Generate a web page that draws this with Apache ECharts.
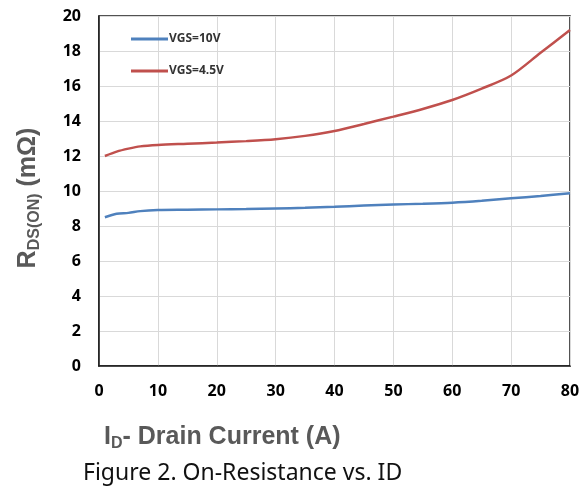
<!DOCTYPE html>
<html>
<head>
<meta charset="utf-8">
<script src="https://cdn.jsdelivr.net/npm/echarts@6/dist/echarts.min.js"></script>
<style>
  html, body { margin: 0; padding: 0; background: #fff; }
  #chart { width: 587px; height: 494px; }
</style>
</head>
<body>
<div id="chart"></div>
<script>
// Drain current (A) sample points
const drainCurrent = [1, 3, 5, 7, 10, 15, 20, 25, 30, 35, 40, 45, 50, 55, 60, 65, 70, 75, 80];
// On-resistance (mΩ) at VGS = 10 V
const rdsVgs10 = [8.5, 8.7, 8.75, 8.85, 8.91, 8.93, 8.95, 8.97, 9.0, 9.04, 9.1, 9.17, 9.23, 9.27, 9.33, 9.44, 9.58, 9.72, 9.87];
// On-resistance (mΩ) at VGS = 4.5 V
const rdsVgs45 = [12.0, 12.25, 12.42, 12.55, 12.63, 12.7, 12.77, 12.85, 12.96, 13.15, 13.43, 13.83, 14.25, 14.69, 15.2, 15.85, 16.6, 17.9, 19.2];
const seriesNames = ['VGS=10V', 'VGS=4.5V'];
const xTicks = { min: 0, max: 80, interval: 10 };
const yTicks = { min: 0, max: 20, interval: 2 };

const pairs = (xs, ys) => xs.map((x, i) => [x, ys[i]]);

const chart = echarts.init(document.getElementById('chart'), null, { renderer: 'canvas' });

const tickFont = { color: '#000', fontFamily: 'Open Sans', fontWeight: 'bold', fontSize: 16 };
const titleRich = {
  m: { fontFamily: 'Liberation Sans', fontWeight: 'bold', fontSize: 25, fill: '#595959', lineHeight: 30, verticalAlign: 'middle' },
  s: { fontFamily: 'Liberation Sans', fontWeight: 'bold', fontSize: 16, fill: '#595959', lineHeight: 16, verticalAlign: 'bottom' }
};

chart.setOption({
  animation: false,
  backgroundColor: '#fff',
  grid: {
    left: 99, top: 16, right: 17, bottom: 128,
    show: true, borderColor: '#1a1a1a', borderWidth: 1.5, backgroundColor: 'transparent'
  },
  legend: {
    orient: 'vertical',
    left: 126, top: 28,
    icon: 'rect',
    itemWidth: 37, itemHeight: 3, itemGap: 20,
    textStyle: { color: '#333', fontFamily: 'Open Sans', fontWeight: 'bold', fontSize: 12, padding: [0, 0, 0, -4] },
    data: seriesNames
  },
  xAxis: {
    type: 'value',
    min: xTicks.min, max: xTicks.max, interval: xTicks.interval,
    axisLine: { show: true, lineStyle: { color: '#1a1a1a', width: 1.5 } },
    axisTick: { show: false },
    axisLabel: Object.assign({ margin: 17 }, tickFont),
    splitLine: { show: true, lineStyle: { color: '#d9d9d9', width: 1 } }
  },
  yAxis: {
    type: 'value',
    min: yTicks.min, max: yTicks.max, interval: yTicks.interval,
    axisLine: { show: true, lineStyle: { color: '#1a1a1a', width: 1.5 } },
    axisTick: { show: false },
    axisLabel: Object.assign({ margin: 18 }, tickFont),
    splitLine: { show: true, lineStyle: { color: '#d9d9d9', width: 1 } }
  },
  series: [
    {
      name: seriesNames[0], type: 'line', smooth: 0.3, symbol: 'none',
      lineStyle: { color: '#4f81bd', width: 2.5 }, itemStyle: { color: '#4f81bd' },
      data: pairs(drainCurrent, rdsVgs10)
    },
    {
      name: seriesNames[1], type: 'line', smooth: 0.3, symbol: 'none',
      lineStyle: { color: '#c0504d', width: 2.5 }, itemStyle: { color: '#c0504d' },
      data: pairs(drainCurrent, rdsVgs45)
    }
  ],
  graphic: [
    {
      type: 'text', x: 28, y: 198, rotation: Math.PI / 2,
      style: {
        text: '{m|R}{s|DS(ON)}{m| (mΩ)}',
        align: 'center', verticalAlign: 'middle',
        rich: titleRich
      }
    },
    {
      type: 'text', x: 104, y: 437,
      style: {
        text: '{m|I}{s|D}{m|- Drain Current (A)}',
        align: 'left', verticalAlign: 'middle',
        rich: titleRich
      }
    },
    {
      type: 'text', x: 83, y: 473,
      style: {
        text: 'Figure 2. On-Resistance vs. ID',
        align: 'left', verticalAlign: 'middle',
        fontFamily: 'Noto Sans', fontSize: 23, fill: '#111'
      }
    }
  ]
});
</script>
</body>
</html>
